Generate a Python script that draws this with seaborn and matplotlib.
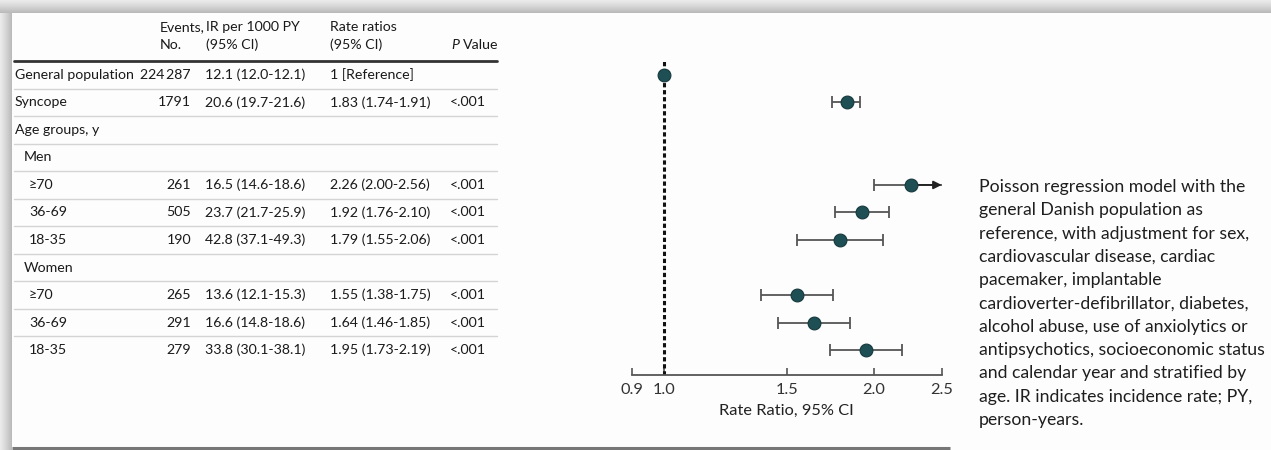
import numpy as np
import matplotlib
matplotlib.use("Agg")
import matplotlib.pyplot as plt
import seaborn as sns

# ---- data ----
labels = ["General population", "Syncope", "Age groups, y", "Men", "\u226570", "36-69", "18-35",
          "Women", "\u226570", "36-69", "18-35"]
indent = [0, 0, 0, 1, 2, 2, 2, 1, 2, 2, 2]
events = ["224\u2009287", "1791", "", "", "261", "505", "190", "", "265", "291", "279"]
ir_ci = ["12.1 (12.0-12.1)", "20.6 (19.7-21.6)", "", "", "16.5 (14.6-18.6)", "23.7 (21.7-25.9)",
         "42.8 (37.1-49.3)", "", "13.6 (12.1-15.3)", "16.6 (14.8-18.6)", "33.8 (30.1-38.1)"]
rr_ci = ["1 [Reference]", "1.83 (1.74-1.91)", "", "", "2.26 (2.00-2.56)", "1.92 (1.76-2.10)",
         "1.79 (1.55-2.06)", "", "1.55 (1.38-1.75)", "1.64 (1.46-1.85)", "1.95 (1.73-2.19)"]
p_vals = ["", "<.001", "", "", "<.001", "<.001", "<.001", "", "<.001", "<.001", "<.001"]

rate_ratio = [1.00, 1.83, np.nan, np.nan, 2.26, 1.92, 1.79, np.nan, 1.55, 1.64, 1.95]
ci_low = [np.nan, 1.74, np.nan, np.nan, 2.00, 1.76, 1.55, np.nan, 1.38, 1.46, 1.73]
ci_high = [np.nan, 1.91, np.nan, np.nan, 2.56, 2.10, 2.06, np.nan, 1.75, 1.85, 2.19]

x_ticks = [0.9, 1.0, 1.5, 2.0, 2.5]

note_lines = ["Poisson regression model with the",
              "general Danish population as",
              "reference, with adjustment for sex,",
              "cardiovascular disease, cardiac",
              "pacemaker, implantable",
              "cardioverter-defibrillator, diabetes,",
              "alcohol abuse, use of anxiolytics or",
              "antipsychotics, socioeconomic status",
              "and calendar year and stratified by",
              "age. IR indicates incidence rate; PY,",
              "person-years."]

sns.set_style("white")
plt.rcParams["font.family"] = ["Lato", "DejaVu Sans"]
plt.rcParams["text.color"] = "#1a1a1a"

W, H = 1271, 450
fig = plt.figure(figsize=(W / 100, H / 100), dpi=100)
fig.patch.set_facecolor("#fdfdfd")

# background / frame in pixel coords
bg = fig.add_axes([0, 0, 1, 1])
bg.set_xlim(0, W)
bg.set_ylim(H, 0)
bg.axis("off")
grad = np.linspace(0, 1, 50)[None, :]
bg.imshow(grad, cmap="Greys", vmin=-0.6, vmax=3.5, extent=[0, 12, H, 0], aspect="auto")
bg.imshow(grad.T, cmap="Greys", vmin=-0.6, vmax=3.5, extent=[0, W, 13, 0], aspect="auto")
bg.plot([12, 950], [448, 448], color="#777777", lw=2.2, solid_capstyle="butt")
for i, line in enumerate(note_lines):
    bg.text(979, 187 + 23.3 * i, line, fontsize=12.7, va="center", ha="left", color="#1e1e1e")

n = len(labels)
rows = np.arange(n)
ylim = (10.9, -0.5)

# table
tab = fig.add_axes([0, 75 / H, 1, 314 / H])
tab.set_xlim(0, W)
tab.set_ylim(*ylim)
tab.axis("off")
tab.patch.set_alpha(0)
fs = 10.2
hdr_y1, hdr_y2 = -1.74, -1.09
kw = dict(fontsize=fs, va="center")
tab.text(160, hdr_y1, "Events,", **kw)
tab.text(160, hdr_y2, "No.", **kw)
tab.text(206, hdr_y1, "IR per 1000 PY", **kw)
tab.text(206, hdr_y2, "(95% CI)", **kw)
tab.text(330, hdr_y1, "Rate ratios", **kw)
tab.text(330, hdr_y2, "(95% CI)", **kw)
tab.text(451, hdr_y2, "P", style="italic", **kw)
tab.text(463, hdr_y2, "Value", **kw)
tab.plot([14, 497], [-0.5, -0.5], color="#333333", lw=2, clip_on=False)
for r in rows[:-1]:
    tab.plot([14, 497], [r + 0.5, r + 0.5], color="#d4d4d4", lw=1, clip_on=False)
for r in rows:
    tab.text(15 + [0, 9, 14][indent[r]], r, labels[r], **kw)
    tab.text(191, r, events[r], ha="right", **kw)
    tab.text(205, r, ir_ci[r], **kw)
    tab.text(330, r, rr_ci[r], **kw)
    tab.text(450, r, p_vals[r], **kw)

# forest plot
ax = fig.add_axes([631.7 / W, 75 / H, 310 / W, 314 / H])
ax.patch.set_alpha(0)
ax.set_xscale("log")
ax.set_xlim(0.9, 2.5)
ax.set_ylim(*ylim)
ax.axvline(1.0, color="#111111", lw=2.2, dashes=(1.4, 0.9), zorder=1)

rr = np.array(rate_ratio)
lo = np.array(ci_low)
hi = np.array(ci_high)
has_ci = ~np.isnan(lo)
ax.errorbar(rr[has_ci], rows[has_ci], xerr=[rr[has_ci] - lo[has_ci], hi[has_ci] - rr[has_ci]],
            fmt="none", ecolor="#555555", elinewidth=1.3, capsize=4, capthick=1.3, zorder=2)
for r in rows[has_ci]:
    if hi[r] > ax.get_xlim()[1]:
        ax.annotate("", xy=(ax.get_xlim()[1], r), xytext=(rr[r], r),
                    arrowprops=dict(arrowstyle="-|>", color="#222222", lw=1.3,
                                    mutation_scale=12, shrinkA=0, shrinkB=0))
ok = ~np.isnan(rr)
sns.scatterplot(x=rr[ok], y=rows[ok], ax=ax, s=85, color="#1e4f55", edgecolor="#16393d",
                linewidth=0.8, zorder=3, legend=False)

for side in ["top", "right", "left"]:
    ax.spines[side].set_visible(False)
ax.spines["bottom"].set_color("#555555")
ax.spines["bottom"].set_linewidth(1.3)
ax.set_xticks(x_ticks)
ax.set_xticklabels([f"{t:.1f}" for t in x_ticks])
ax.xaxis.set_minor_locator(matplotlib.ticker.NullLocator())
ax.tick_params(axis="x", direction="in", length=5, width=1.2, color="#555555",
               labelsize=11.8, labelcolor="#333333", pad=6, bottom=True)
ax.set_yticks([])
ax.set_xlabel("Rate Ratio, 95% CI", fontsize=11.8, color="#222222", labelpad=5)

fig.savefig("out.png", dpi=100, facecolor=fig.get_facecolor())
